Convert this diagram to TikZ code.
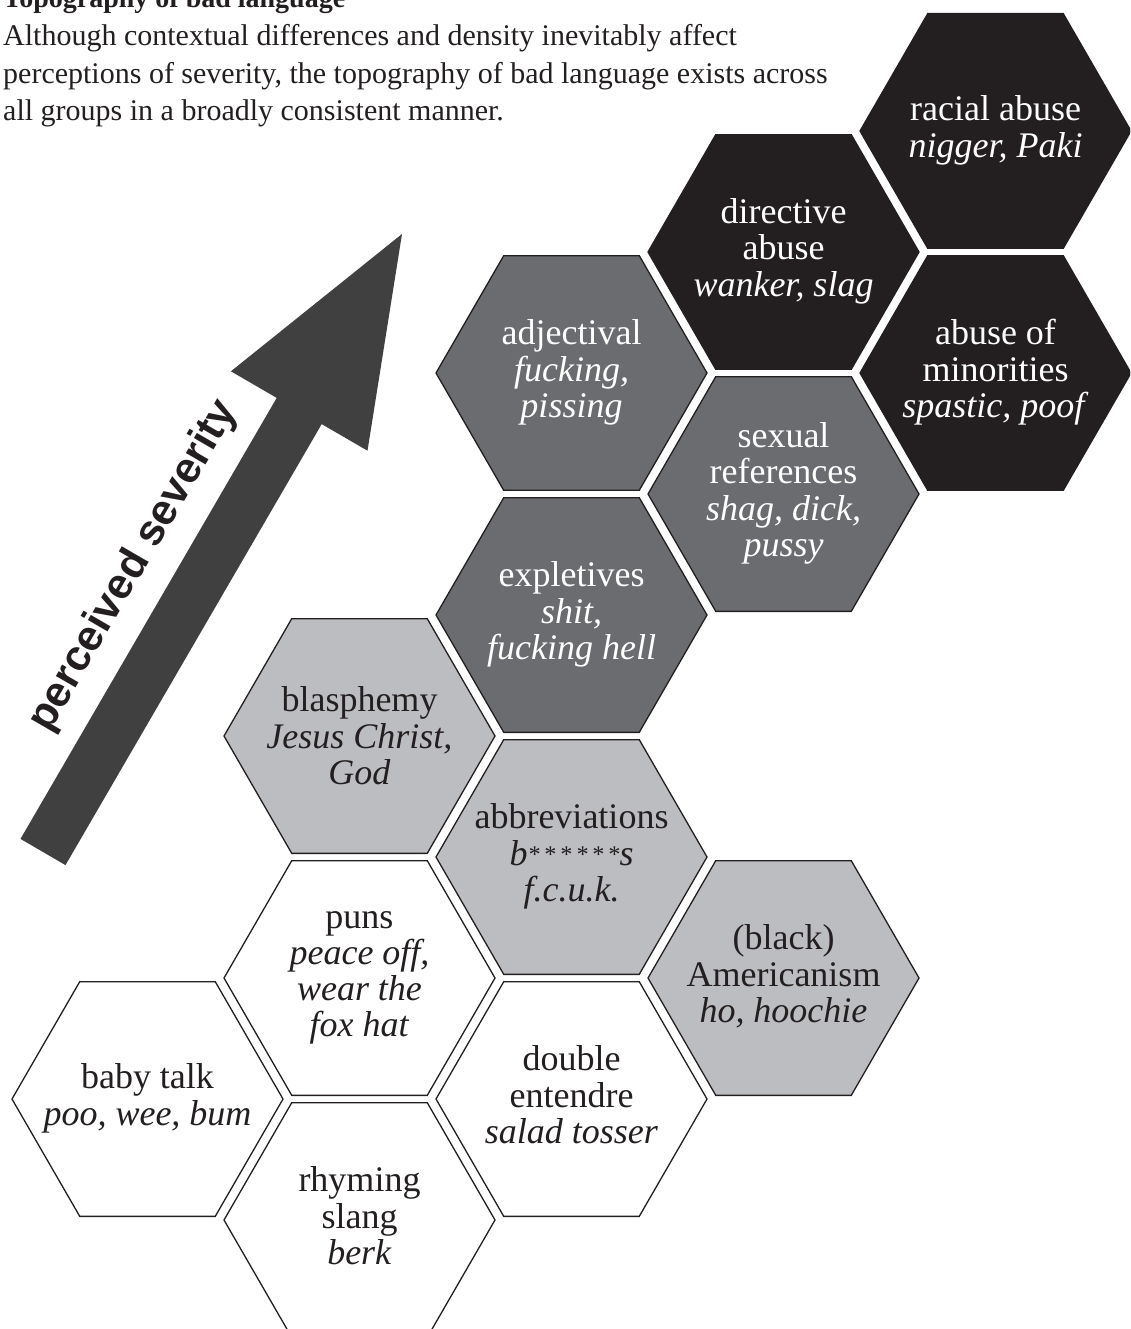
\documentclass[tikz,border=0pt]{standalone}
\usepackage{fontspec}
\setmainfont{Liberation Serif}
\newfontfamily\arrowfont{Liberation Sans}
\usetikzlibrary{shapes.geometric}
\definecolor{inkc}{HTML}{231F20}
\definecolor{lightg}{HTML}{BCBDC0}
\definecolor{midg}{HTML}{6B6C6F}
\definecolor{arrowg}{HTML}{404040}
\newcommand\stTop{\rule{0pt}{25pt}}
\newcommand\stBot{\rule[-9pt]{0pt}{9pt}}
\newcommand\stars{{\fontsize{24}{24}\selectfont\raisebox{3pt}{*\,*\,*\,*\,*\,*}}}
\begin{document}
\begin{tikzpicture}[x=1pt,y=-1pt,
  hex/.style={regular polygon, regular polygon sides=6, minimum size=271pt,
    inner sep=0pt, outer sep=0pt, draw=inkc, line width=1.3pt},
  hexwhite/.style={hex, fill=white},
  hexlight/.style={hex, fill=lightg},
  hexmid/.style={hex, fill=midg},
  hexdark/.style={hex, fill=inkc},
  lbl/.style={align=center, inner sep=0pt, font=\fontsize{36}{36.2}\selectfont, text=inkc},
  lblw/.style={lbl, text=white},
  para/.style={anchor=base west, inner sep=0pt, font=\fontsize{30}{36}\selectfont, text=inkc}]
\useasboundingbox (0,0) rectangle (1130,1329);
\clip (0,0) rectangle (1130,1329);

% header text
\node[para, font=\bfseries\fontsize{28}{30}\selectfont] (title) at (3,7.5) {Topography of bad language};
\node[para] (p1) at (3,46) {Although contextual differences and density inevitably affect};
\node[para] (p2) at (3,84) {perceptions of severity, the topography of bad language exists across};
\node[para] (p3) at (3,121) {all groups in a broadly consistent manner.};

% arrow
\fill[arrowg] (20.5,838.9) -- (276.7,397.9) -- (230.9,371.3) -- (402,234)
  -- (367.5,450.7) -- (321.7,424.1) -- (65.5,865.1) -- cycle;
\node[font=\arrowfont\bfseries\fontsize{43}{43}\selectfont, rotate=59.85,
  text=inkc, inner sep=0pt] (sev) at (134,566) {perceived severity};

% hexagons
\node[hexdark]  (hracial) at (995.5,131) {};
\node[hexdark]  (hdirect) at (783.5,252) {};
\node[hexdark]  (hminor)  at (995.5,373) {};
\node[hexmid]   (hadj)    at (571.5,373) {};
\node[hexmid]   (hsex)    at (783.5,494) {};
\node[hexmid]   (hexpl)   at (571.5,615) {};
\node[hexlight] (hblas)   at (359.5,736) {};
\node[hexlight] (habbr)   at (571.5,857) {};
\node[hexlight] (hamer)   at (783.5,978) {};
\node[hexwhite] (hpuns)   at (359.5,978) {};
\node[hexwhite] (hbaby)   at (147.5,1099) {};
\node[hexwhite] (hdouble) at (571.5,1099) {};
\node[hexwhite] (hrhyme)  at (359.5,1220) {};

% labels
\node[lblw] (tracial) at (hracial) {\stTop racial abuse\\\textit{nigger, Paki}\stBot};
\node[lblw] (tdirect) at (hdirect) {\stTop directive\\abuse\\\textit{wanker, slag}\stBot};
\node[lblw] (tminor)  at (hminor)  {\stTop abuse of\\minorities\\\textit{spastic, poof}\stBot};
\node[lblw] (tadj)    at (hadj)    {\stTop adjectival\\\textit{fucking,}\\\textit{pissing}\stBot};
\node[lblw] (tsex)    at (hsex)    {\stTop sexual\\references\\\textit{shag, dick,}\\\textit{pussy}\stBot};
\node[lblw] (texpl)   at (hexpl)   {\stTop expletives\\\textit{shit,}\\\textit{fucking hell}\stBot};
\node[lbl, yshift=-4pt] (tblas) at (hblas) {\stTop blasphemy\\\textit{Jesus Christ,}\\\textit{God}\stBot};
\node[lbl]  (tabbr)   at (habbr)   {\stTop abbreviations\\\textit{b\stars s}\\\textit{f.c.u.k.}\stBot};
\node[lbl]  (tamer)   at (hamer)   {\stTop (black)\\Americanism\\\textit{ho, hoochie}\stBot};
\node[lbl, yshift=3.5pt] (tpuns) at (hpuns) {\stTop puns\\\textit{peace off,}\\\textit{wear the}\\\textit{fox hat}\stBot};
\node[lbl]  (tbaby)   at (hbaby)   {\stTop baby talk\\\textit{poo, wee, bum}\stBot};
\node[lbl]  (tdouble) at (hdouble) {\stTop double\\entendre\\\textit{salad tosser}\stBot};
\node[lbl]  (trhyme)  at (hrhyme)  {\stTop rhyming\\slang\\\textit{berk}\stBot};
\end{tikzpicture}
\end{document}
